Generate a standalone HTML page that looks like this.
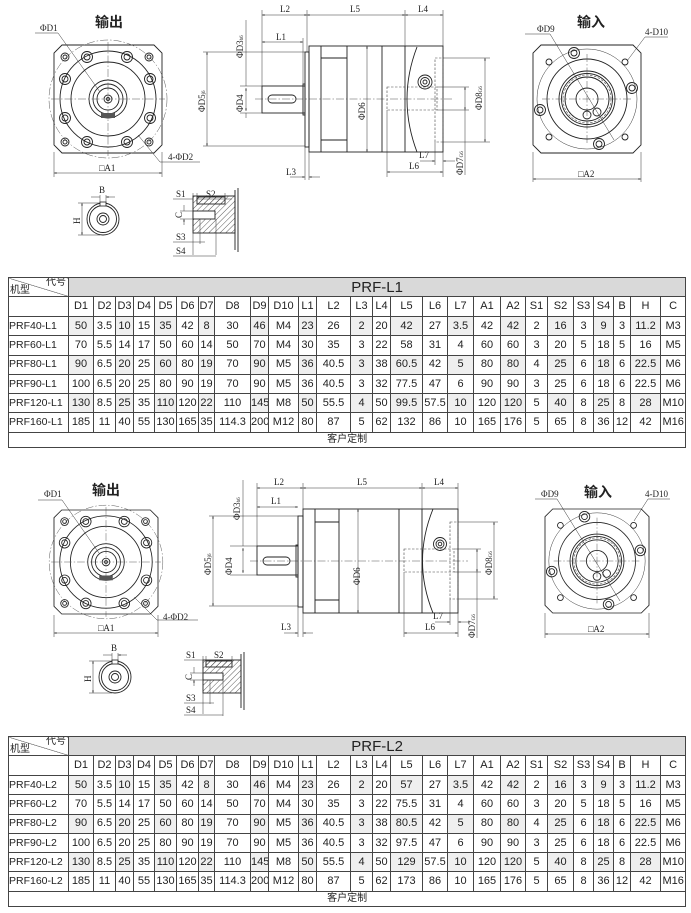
<!DOCTYPE html>
<html><head><meta charset="utf-8">
<style>
html,body{margin:0;padding:0;background:#fff;}
body{width:691px;height:913px;position:relative;overflow:hidden;font-family:"Liberation Sans","Noto Sans CJK SC",sans-serif;}
svg{position:absolute;left:0;top:0;}
.l{fill:none;stroke:#222;stroke-width:0.9}
.t{fill:none;stroke:#333;stroke-width:0.5}
.dd{fill:none;stroke:#555;stroke-width:0.5;stroke-dasharray:8 2 1.5 2}
.ds{fill:none;stroke:#444;stroke-width:0.6;stroke-dasharray:2.5 1.5}
.lb{font-family:"Liberation Serif",serif;font-size:9px;fill:#222}
.tt{font-family:"Liberation Sans","Noto Sans CJK SC",sans-serif;font-size:14px;font-weight:bold;fill:#222}
table{position:absolute;left:8px;border-collapse:collapse;table-layout:fixed;font-size:11px;color:#222;}
td{border:1px solid #444;text-align:center;padding:0;white-space:nowrap;overflow:hidden;line-height:1;}
td.h{background:#d9d9d9;font-size:15px;}
tr.g td:nth-child(even){background:#efefef;}
td.f{text-align:left;font-size:10.5px;}
.dg{position:relative;background:linear-gradient(to top right,transparent 49%,#444 50%,transparent 52%) !important;}
.dg span{position:absolute;font-size:10px;}
</style></head><body>
<svg width="691" height="913" viewBox="0 0 691 913">
<defs>
<marker id="a" viewBox="0 0 10 10" refX="10" refY="5" markerWidth="5" markerHeight="5" orient="auto-start-reverse"><path d="M0,2L10,5L0,8Z" fill="#222"/></marker>
<pattern id="hp" width="4" height="4" patternUnits="userSpaceOnUse" patternTransform="rotate(45)"><line x1="0" y1="0" x2="0" y2="4" stroke="#333" stroke-width="0.8"/></pattern>
<g id="of">
<path class="l" d="M-46,-54H46L54,-46V46L46,54H-46L-54,46V-46Z"/>
<circle class="dd" r="59"/>
<circle class="l" r="48"/>
<circle class="l" r="37"/>
<circle class="l" r="19"/><circle class="l" r="15"/><circle class="l" r="11"/><circle class="l" r="4"/><circle class="l" r="1.5"/>
<path class="dd" d="M-57,0H57M0,-57V57"/>
<g class="l">
<circle cx="-21" cy="-42" r="5.5"/><circle cx="-21" cy="-42" r="3"/>
<circle cx="19" cy="-42" r="5.5"/><circle cx="19" cy="-42" r="3"/>
<circle cx="-43" cy="-20" r="5.5"/><circle cx="-43" cy="-20" r="3"/>
<circle cx="42" cy="-20" r="5.5"/><circle cx="42" cy="-20" r="3"/>
<circle cx="-43" cy="19" r="5.5"/><circle cx="-43" cy="19" r="3"/>
<circle cx="42" cy="19" r="5.5"/><circle cx="42" cy="19" r="3"/>
<circle cx="-21" cy="43" r="5.5"/><circle cx="-21" cy="43" r="3"/>
<circle cx="19" cy="43" r="5.5"/><circle cx="19" cy="43" r="3"/>
<circle cx="-43" cy="-42" r="4"/><circle cx="-43" cy="-42" r="2"/>
<circle cx="41" cy="-42" r="4"/><circle cx="41" cy="-42" r="2"/>
<circle cx="-43" cy="43" r="4"/><circle cx="-43" cy="43" r="2"/>
<circle cx="41" cy="43" r="4"/><circle cx="41" cy="43" r="2"/>
</g>
<rect x="-7" y="14" width="14" height="5" fill="#555"/>
</g>
<g id="if">
<path class="l" d="M-46,-54H46L54,-46V46L46,54H-46L-54,46V-46Z"/>
<circle class="t" r="50"/>
<circle class="l" r="40"/>
<circle class="l" r="28"/><circle class="l" r="25.5"/><circle class="ds" r="24"/><circle class="l" r="22"/>
<circle class="l" r="11"/>
<path class="dd" d="M-45,0H45M0,-45V45"/>
<g class="l">
<circle cx="-13" cy="-46" r="5.5"/><circle cx="-13" cy="-46" r="3"/>
<circle cx="45" cy="-11" r="5.5"/><circle cx="45" cy="-11" r="3"/>
<circle cx="-47" cy="11" r="5.5"/><circle cx="-47" cy="11" r="3"/>
<circle cx="12" cy="45" r="5.5"/><circle cx="12" cy="45" r="3"/>
<circle cx="-38" cy="-37" r="3"/><circle cx="38" cy="-37" r="3"/>
<circle cx="-38" cy="38" r="3"/><circle cx="38" cy="38" r="3"/>
<circle cx="0" cy="16" r="4"/><circle cx="10" cy="13" r="4"/>
</g>
</g>
</defs>

<!-- ===== TOP DRAWING ===== -->
<text class="tt" x="95" y="27">输出</text>
<use href="#of" transform="translate(108,99)"/>
<text class="lb" x="40" y="31">ΦD1</text>
<path class="t" d="M35,33H58L100,92"/>
<path class="t" d="M138,135L160,162H200"/>
<text class="lb" x="168" y="160">4-ΦD2</text>
<path class="t" d="M54,152V177M162,152V177"/>
<path class="t" d="M54,173H162" marker-start="url(#a)" marker-end="url(#a)"/>
<text class="lb" x="99" y="171">□A1</text>

<g transform="translate(103,219)">
<circle class="l" r="16"/><circle class="l" r="13.5"/><circle class="l" r="6"/><circle class="l" r="3.5"/>
<rect x="-3" y="-17" width="6" height="4" fill="#fff" stroke="#222" stroke-width="0.8"/>
</g>
<path class="t" d="M100,195V203M106,195V203"/>
<path class="t" d="M91,197H100M115,197H106" marker-end="url(#a)"/>
<text class="lb" x="99" y="193">B</text>
<path class="t" d="M78,203H100M78,235H100"/>
<path class="t" d="M82,203V235" marker-start="url(#a)" marker-end="url(#a)"/>
<text class="lb" transform="translate(80,224) rotate(-90)">H</text>

<rect x="193" y="196" width="42" height="37" fill="url(#hp)" stroke="#222" stroke-width="0.9"/>
<rect x="197" y="197" width="28" height="7" fill="url(#hp)" stroke="#222" stroke-width="0.9"/>
<rect x="193" y="211" width="22" height="8" fill="#fff" stroke="#222" stroke-width="0.9"/>
<path class="l" d="M235,190V250M238,188V252"/>
<path class="t" d="M193,193V255M197,193V200M225,193V200M216,219V255M200,219V244"/>
<path class="t" d="M173,199H193M197,199H232"/>
<text class="lb" x="176" y="197">S1</text><text class="lb" x="206" y="197">S2</text>
<path class="t" d="M180,211H193M180,219H193"/>
<path class="t" d="M184,205V211M184,225V219" marker-end="url(#a)"/>
<text class="lb" transform="translate(182,218) rotate(-90)">C</text>
<path class="t" d="M173,242H205" /><text class="lb" x="176" y="240">S3</text>
<path class="t" d="M173,256H216"/><text class="lb" x="176" y="254">S4</text>

<path class="dd" d="M255,99H452"/>
<rect class="l" x="262" y="86" width="43" height="27"/>
<rect class="l" x="268" y="95" width="28" height="8" rx="4"/>
<rect class="l" x="305" y="52" width="4" height="95"/>
<rect class="l" x="303" y="84" width="2" height="31"/>
<rect class="l" x="309" y="46" width="134" height="106"/>
<path class="l" d="M321,46V152M347,46V152M382,46V152M405,46V152M321,58H347M321,140H347"/>
<path class="l" d="M417,47Q397,99 417,152"/>
<circle class="l" cx="425" cy="82" r="7"/><circle class="l" cx="425" cy="82" r="4.5"/><circle class="l" cx="425" cy="82" r="2"/>
<rect class="ds" x="387" y="87" width="50" height="23"/>
<rect class="ds" x="435" y="58" width="8" height="84"/>
<path class="t" d="M262,10V86M307,10V52M405,10V46M443,10V46"/>
<path class="t" d="M262,15H307" marker-start="url(#a)" marker-end="url(#a)"/>
<path class="t" d="M307,15H405" marker-start="url(#a)" marker-end="url(#a)"/>
<path class="t" d="M405,15H443" marker-start="url(#a)" marker-end="url(#a)"/>
<text class="lb" x="280" y="12">L2</text><text class="lb" x="350" y="12">L5</text><text class="lb" x="418" y="12">L4</text>
<path class="t" d="M262,42H303" marker-start="url(#a)" marker-end="url(#a)"/>
<path class="t" d="M303,38V84"/>
<text class="lb" x="276" y="40">L1</text>
<path class="t" d="M203,52H305M203,146H305"/>
<path class="t" d="M207,52V146" marker-start="url(#a)" marker-end="url(#a)"/>
<text class="lb" transform="translate(205,112) rotate(-90)">ΦD5<tspan font-size="5">j6</tspan></text>
<path class="t" d="M240,86H262M240,113H262"/>
<path class="t" d="M246,20V86M246,113V118" />
<path class="t" d="M246,88V111" marker-start="url(#a)" marker-end="url(#a)"/>
<text class="lb" transform="translate(243,112) rotate(-90)">ΦD4</text>
<text class="lb" transform="translate(243,58) rotate(-90)">ΦD3<tspan font-size="5">h6</tspan></text>
<path class="t" d="M367,46V152" marker-start="url(#a)" marker-end="url(#a)"/>
<text class="lb" transform="translate(365,120) rotate(-90)">ΦD6</text>
<path class="t" d="M443,58H490M443,142H490"/>
<path class="t" d="M485,58V142" marker-start="url(#a)" marker-end="url(#a)"/>
<text class="lb" transform="translate(482,110) rotate(-90)">ΦD8<tspan font-size="5">G6</tspan></text>
<path class="t" d="M437,87H469M437,110H469"/>
<path class="t" d="M465,87V110" marker-start="url(#a)" marker-end="url(#a)"/>
<path class="t" d="M465,110V175"/>
<text class="lb" transform="translate(463,175) rotate(-90)">ΦD7<tspan font-size="5">G6</tspan></text>
<path class="t" d="M435,142V165M443,152V177M387,110V177M305,147V180M309,152V180"/>
<path class="t" d="M420,161H435" marker-end="url(#a)"/><path class="t" d="M455,161H443" marker-end="url(#a)"/>
<text class="lb" x="419" y="158">L7</text>
<path class="t" d="M387,172H443" marker-start="url(#a)" marker-end="url(#a)"/>
<text class="lb" x="409" y="169">L6</text>
<path class="t" d="M290,177H305" marker-end="url(#a)"/><path class="t" d="M320,177H309" marker-end="url(#a)"/>
<text class="lb" x="286" y="175">L3</text>

<text class="tt" x="577" y="27">输入</text>
<use href="#if" transform="translate(587,99)"/>
<text class="lb" x="537" y="32">ΦD9</text>
<path class="t" d="M525,34H550L614,140"/>
<text class="lb" x="645" y="35">4-D10</text>
<path class="t" d="M668,37H645L627,61"/>
<path class="t" d="M533,152V182M641,152V182"/>
<path class="t" d="M533,179H641" marker-start="url(#a)" marker-end="url(#a)"/>
<text class="lb" x="578" y="177">□A2</text>

<!-- ===== BOTTOM DRAWING ===== -->
<text class="tt" x="92" y="495">输出</text>
<use href="#of" transform="translate(106,562) scale(0.963)"/>
<text class="lb" x="44" y="497">ΦD1</text>
<path class="t" d="M38,500H62L99,553"/>
<path class="t" d="M134,597L157,620H198"/>
<text class="lb" x="163" y="620">4-ΦD2</text>
<path class="t" d="M54,615V637M158,615V637"/>
<path class="t" d="M54,633H158" marker-start="url(#a)" marker-end="url(#a)"/>
<text class="lb" x="98" y="631">□A1</text>

<g transform="translate(115,677)">
<circle class="l" r="16"/><circle class="l" r="13.5"/><circle class="l" r="6"/><circle class="l" r="3.5"/>
<rect x="-3" y="-17" width="6" height="4" fill="#fff" stroke="#222" stroke-width="0.8"/>
</g>
<path class="t" d="M112,653V661M118,653V661"/>
<path class="t" d="M103,655H112M127,655H118" marker-end="url(#a)"/>
<text class="lb" x="111" y="651">B</text>
<path class="t" d="M89,661H112M89,693H112"/>
<path class="t" d="M93,661V693" marker-start="url(#a)" marker-end="url(#a)"/>
<text class="lb" transform="translate(91,682) rotate(-90)">H</text>

<rect x="203" y="660" width="38" height="33" fill="url(#hp)" stroke="#222" stroke-width="0.9"/>
<rect x="206" y="661" width="26" height="6" fill="url(#hp)" stroke="#222" stroke-width="0.9"/>
<rect x="203" y="673" width="20" height="7" fill="#fff" stroke="#222" stroke-width="0.9"/>
<path class="l" d="M241,654V708M244,652V710"/>
<path class="t" d="M203,656V714M206,656V662M232,656V662M223,680V716M210,680V704"/>
<path class="t" d="M184,660H203M206,660H240"/>
<text class="lb" x="186" y="658">S1</text><text class="lb" x="214" y="658">S2</text>
<path class="t" d="M190,673H203M190,680H203"/>
<path class="t" d="M194,667V673M194,686V680" marker-end="url(#a)"/>
<text class="lb" transform="translate(192,680) rotate(-90)">C</text>
<path class="t" d="M184,703H214"/><text class="lb" x="186" y="701">S3</text>
<path class="t" d="M184,715H223"/><text class="lb" x="186" y="713">S4</text>

<path class="dd" d="M250,561H468"/>
<rect class="l" x="257" y="546" width="41" height="29"/>
<rect class="l" x="263" y="557" width="27" height="8" rx="4"/>
<rect class="l" x="298" y="516" width="5" height="91"/>
<rect class="l" x="296" y="545" width="2" height="32"/>
<rect class="l" x="303" y="509" width="155" height="104"/>
<path class="l" d="M315,509V613M339,509V613M399,509V613M422,509V613M315,522H339M315,600H339"/>
<path class="l" d="M433,509Q412,561 433,613"/>
<circle class="l" cx="440" cy="544" r="6.5"/><circle class="l" cx="440" cy="544" r="4"/><circle class="l" cx="440" cy="544" r="1.8"/>
<rect class="ds" x="404" y="549" width="50" height="23"/>
<rect class="ds" x="450" y="522" width="8" height="77"/>
<path class="t" d="M257,483V546M303,483V509M422,483V509M458,483V509"/>
<path class="t" d="M257,488H303" marker-start="url(#a)" marker-end="url(#a)"/>
<path class="t" d="M303,488H422" marker-start="url(#a)" marker-end="url(#a)"/>
<path class="t" d="M422,488H458" marker-start="url(#a)" marker-end="url(#a)"/>
<text class="lb" x="274" y="485">L2</text><text class="lb" x="357" y="485">L5</text><text class="lb" x="434" y="485">L4</text>
<path class="t" d="M257,507H298" marker-start="url(#a)" marker-end="url(#a)"/>
<text class="lb" x="271" y="504">L1</text>
<path class="t" d="M209,516H298M209,606H298"/>
<path class="t" d="M213,516V606" marker-start="url(#a)" marker-end="url(#a)"/>
<text class="lb" transform="translate(211,575) rotate(-90)">ΦD5<tspan font-size="5">j6</tspan></text>
<path class="t" d="M230,546H257M230,575H257"/>
<path class="t" d="M243,480V546"/>
<path class="t" d="M243,548V573" marker-start="url(#a)" marker-end="url(#a)"/>
<text class="lb" transform="translate(232,575) rotate(-90)">ΦD4</text>
<text class="lb" transform="translate(240,520) rotate(-90)">ΦD3<tspan font-size="5">h6</tspan></text>
<path class="t" d="M358,509V613" marker-start="url(#a)" marker-end="url(#a)"/>
<text class="lb" transform="translate(360,585) rotate(-90)">ΦD6</text>
<path class="t" d="M458,522H498M458,599H498"/>
<path class="t" d="M494,522V599" marker-start="url(#a)" marker-end="url(#a)"/>
<text class="lb" transform="translate(492,575) rotate(-90)">ΦD8<tspan font-size="5">G6</tspan></text>
<path class="t" d="M454,549H481M454,572H481"/>
<path class="t" d="M477,549V572" marker-start="url(#a)" marker-end="url(#a)"/>
<path class="t" d="M477,572V638"/>
<text class="lb" transform="translate(475,638) rotate(-90)">ΦD7<tspan font-size="5">G6</tspan></text>
<path class="t" d="M450,599V625M458,613V637M404,572V637M298,607V637M303,613V637"/>
<path class="t" d="M435,622H450" marker-end="url(#a)"/><path class="t" d="M470,622H458" marker-end="url(#a)"/>
<text class="lb" x="433" y="619">L7</text>
<path class="t" d="M404,633H458" marker-start="url(#a)" marker-end="url(#a)"/>
<text class="lb" x="425" y="630">L6</text>
<path class="t" d="M284,633H298" marker-end="url(#a)"/><path class="t" d="M313,633H303" marker-end="url(#a)"/>
<text class="lb" x="281" y="630">L3</text>

<text class="tt" x="584" y="497">输入</text>
<use href="#if" transform="translate(597,561) scale(0.963)"/>
<text class="lb" x="541" y="497">ΦD9</text>
<path class="t" d="M535,499H557L620,601"/>
<text class="lb" x="645" y="497">4-D10</text>
<path class="t" d="M670,499H648L634,521"/>
<path class="t" d="M545,613V638M649,613V638"/>
<path class="t" d="M545,634H649" marker-start="url(#a)" marker-end="url(#a)"/>
<text class="lb" x="588" y="632">□A2</text>
</svg>

<table style="top:277px;width:677px">
<colgroup><col style="width:60px"><col style="width:25px"><col style="width:22px"><col style="width:18px"><col style="width:21px"><col style="width:22px"><col style="width:22px"><col style="width:16px"><col style="width:36px"><col style="width:18px"><col style="width:30px"><col style="width:18px"><col style="width:34px"><col style="width:22px"><col style="width:18px"><col style="width:32px"><col style="width:25px"><col style="width:26px"><col style="width:27px"><col style="width:25px"><col style="width:22px"><col style="width:26px"><col style="width:20px"><col style="width:20px"><col style="width:17px"><col style="width:30px"><col style="width:25px"></colgroup>
<tr style="height:19px"><td class="dg"><span style="right:2px;top:0">代号</span><span style="left:1px;bottom:0">机型</span></td><td class="h" colspan="26">PRF-L1</td></tr>
<tr style="height:20px"><td></td><td>D1</td><td>D2</td><td>D3</td><td>D4</td><td>D5</td><td>D6</td><td>D7</td><td>D8</td><td>D9</td><td>D10</td><td>L1</td><td>L2</td><td>L3</td><td>L4</td><td>L5</td><td>L6</td><td>L7</td><td>A1</td><td>A2</td><td>S1</td><td>S2</td><td>S3</td><td>S4</td><td>B</td><td>H</td><td>C</td></tr>
<tr class="g" style="height:19.3px"><td class="f">PRF40-L1</td><td>50</td><td>3.5</td><td>10</td><td>15</td><td>35</td><td>42</td><td>8</td><td>30</td><td>46</td><td>M4</td><td>23</td><td>26</td><td>2</td><td>20</td><td>42</td><td>27</td><td>3.5</td><td>42</td><td>42</td><td>2</td><td>16</td><td>3</td><td>9</td><td>3</td><td>11.2</td><td>M3</td></tr>
<tr style="height:19.3px"><td class="f">PRF60-L1</td><td>70</td><td>5.5</td><td>14</td><td>17</td><td>50</td><td>60</td><td>14</td><td>50</td><td>70</td><td>M4</td><td>30</td><td>35</td><td>3</td><td>22</td><td>58</td><td>31</td><td>4</td><td>60</td><td>60</td><td>3</td><td>20</td><td>5</td><td>18</td><td>5</td><td>16</td><td>M5</td></tr>
<tr class="g" style="height:19.3px"><td class="f">PRF80-L1</td><td>90</td><td>6.5</td><td>20</td><td>25</td><td>60</td><td>80</td><td>19</td><td>70</td><td>90</td><td>M5</td><td>36</td><td>40.5</td><td>3</td><td>38</td><td>60.5</td><td>42</td><td>5</td><td>80</td><td>80</td><td>4</td><td>25</td><td>6</td><td>18</td><td>6</td><td>22.5</td><td>M6</td></tr>
<tr style="height:19.3px"><td class="f">PRF90-L1</td><td>100</td><td>6.5</td><td>20</td><td>25</td><td>80</td><td>90</td><td>19</td><td>70</td><td>90</td><td>M5</td><td>36</td><td>40.5</td><td>3</td><td>32</td><td>77.5</td><td>47</td><td>6</td><td>90</td><td>90</td><td>3</td><td>25</td><td>6</td><td>18</td><td>6</td><td>22.5</td><td>M6</td></tr>
<tr class="g" style="height:19.3px"><td class="f">PRF120-L1</td><td>130</td><td>8.5</td><td>25</td><td>35</td><td>110</td><td>120</td><td>22</td><td>110</td><td>145</td><td>M8</td><td>50</td><td>55.5</td><td>4</td><td>50</td><td>99.5</td><td>57.5</td><td>10</td><td>120</td><td>120</td><td>5</td><td>40</td><td>8</td><td>25</td><td>8</td><td>28</td><td>M10</td></tr>
<tr style="height:19.3px"><td class="f">PRF160-L1</td><td>185</td><td>11</td><td>40</td><td>55</td><td>130</td><td>165</td><td>35</td><td>114.3</td><td>200</td><td>M12</td><td>80</td><td>87</td><td>5</td><td>62</td><td>132</td><td>86</td><td>10</td><td>165</td><td>176</td><td>5</td><td>65</td><td>8</td><td>36</td><td>12</td><td>42</td><td>M16</td></tr>
<tr style="height:15px"><td colspan="27" style="font-size:10px">客户定制</td></tr>
</table>

<table style="top:736px;width:677px">
<colgroup><col style="width:60px"><col style="width:25px"><col style="width:22px"><col style="width:18px"><col style="width:21px"><col style="width:22px"><col style="width:22px"><col style="width:16px"><col style="width:36px"><col style="width:18px"><col style="width:30px"><col style="width:18px"><col style="width:34px"><col style="width:22px"><col style="width:18px"><col style="width:32px"><col style="width:25px"><col style="width:26px"><col style="width:27px"><col style="width:25px"><col style="width:22px"><col style="width:26px"><col style="width:20px"><col style="width:20px"><col style="width:17px"><col style="width:30px"><col style="width:25px"></colgroup>
<tr style="height:19px"><td class="dg"><span style="right:2px;top:0">代号</span><span style="left:1px;bottom:0">机型</span></td><td class="h" colspan="26">PRF-L2</td></tr>
<tr style="height:20px"><td></td><td>D1</td><td>D2</td><td>D3</td><td>D4</td><td>D5</td><td>D6</td><td>D7</td><td>D8</td><td>D9</td><td>D10</td><td>L1</td><td>L2</td><td>L3</td><td>L4</td><td>L5</td><td>L6</td><td>L7</td><td>A1</td><td>A2</td><td>S1</td><td>S2</td><td>S3</td><td>S4</td><td>B</td><td>H</td><td>C</td></tr>
<tr class="g" style="height:19.3px"><td class="f">PRF40-L2</td><td>50</td><td>3.5</td><td>10</td><td>15</td><td>35</td><td>42</td><td>8</td><td>30</td><td>46</td><td>M4</td><td>23</td><td>26</td><td>2</td><td>20</td><td>57</td><td>27</td><td>3.5</td><td>42</td><td>42</td><td>2</td><td>16</td><td>3</td><td>9</td><td>3</td><td>11.2</td><td>M3</td></tr>
<tr style="height:19.3px"><td class="f">PRF60-L2</td><td>70</td><td>5.5</td><td>14</td><td>17</td><td>50</td><td>60</td><td>14</td><td>50</td><td>70</td><td>M4</td><td>30</td><td>35</td><td>3</td><td>22</td><td>75.5</td><td>31</td><td>4</td><td>60</td><td>60</td><td>3</td><td>20</td><td>5</td><td>18</td><td>5</td><td>16</td><td>M5</td></tr>
<tr class="g" style="height:19.3px"><td class="f">PRF80-L2</td><td>90</td><td>6.5</td><td>20</td><td>25</td><td>60</td><td>80</td><td>19</td><td>70</td><td>90</td><td>M5</td><td>36</td><td>40.5</td><td>3</td><td>38</td><td>80.5</td><td>42</td><td>5</td><td>80</td><td>80</td><td>4</td><td>25</td><td>6</td><td>18</td><td>6</td><td>22.5</td><td>M6</td></tr>
<tr style="height:19.3px"><td class="f">PRF90-L2</td><td>100</td><td>6.5</td><td>20</td><td>25</td><td>80</td><td>90</td><td>19</td><td>70</td><td>90</td><td>M5</td><td>36</td><td>40.5</td><td>3</td><td>32</td><td>97.5</td><td>47</td><td>6</td><td>90</td><td>90</td><td>3</td><td>25</td><td>6</td><td>18</td><td>6</td><td>22.5</td><td>M6</td></tr>
<tr class="g" style="height:19.3px"><td class="f">PRF120-L2</td><td>130</td><td>8.5</td><td>25</td><td>35</td><td>110</td><td>120</td><td>22</td><td>110</td><td>145</td><td>M8</td><td>50</td><td>55.5</td><td>4</td><td>50</td><td>129</td><td>57.5</td><td>10</td><td>120</td><td>120</td><td>5</td><td>40</td><td>8</td><td>25</td><td>8</td><td>28</td><td>M10</td></tr>
<tr style="height:19.3px"><td class="f">PRF160-L2</td><td>185</td><td>11</td><td>40</td><td>55</td><td>130</td><td>165</td><td>35</td><td>114.3</td><td>200</td><td>M12</td><td>80</td><td>87</td><td>5</td><td>62</td><td>173</td><td>86</td><td>10</td><td>165</td><td>176</td><td>5</td><td>65</td><td>8</td><td>36</td><td>12</td><td>42</td><td>M16</td></tr>
<tr style="height:15px"><td colspan="27" style="font-size:10px">客户定制</td></tr>
</table>
</body></html>
